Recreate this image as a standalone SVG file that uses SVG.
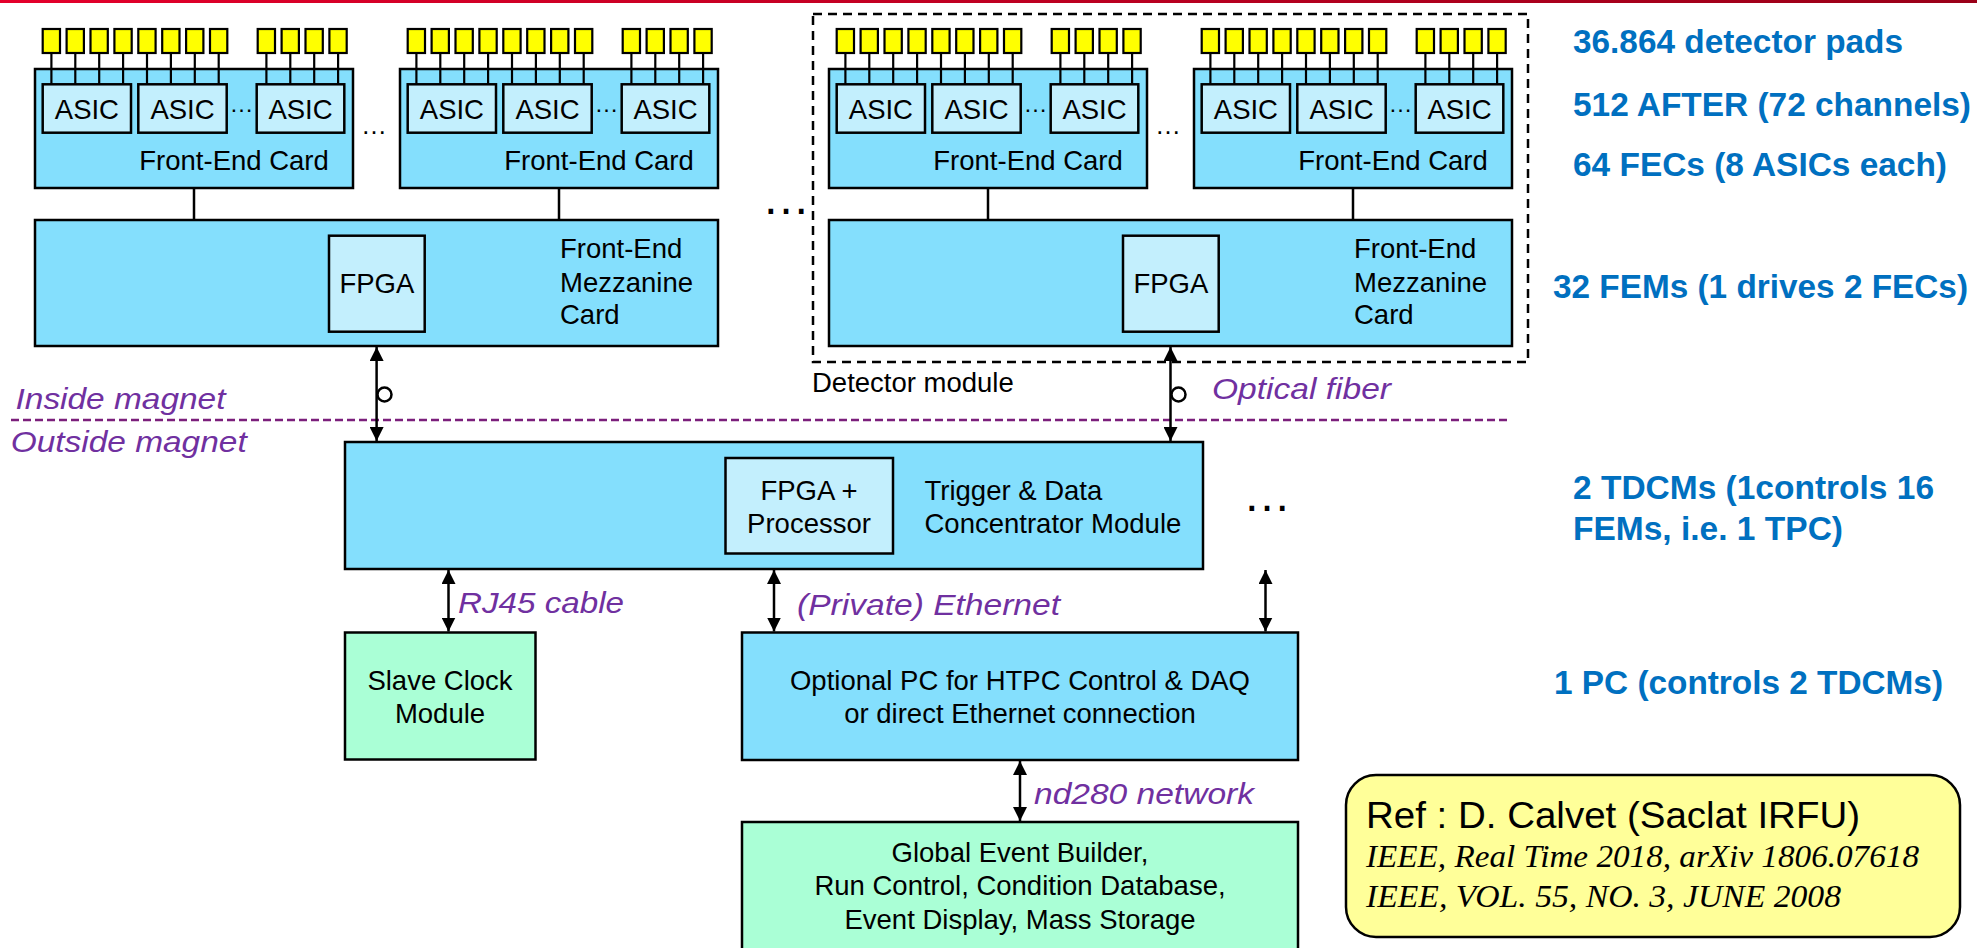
<svg xmlns="http://www.w3.org/2000/svg" width="1977" height="948" viewBox="0 0 1977 948">
<defs>
<style>
.box{fill:#84dffd;stroke:#000;stroke-width:2.5}
.chip{fill:#c3effd;stroke:#000;stroke-width:2.5}
.green{fill:#aaffd6;stroke:#000;stroke-width:2.5}
.pad{fill:#ffff00;stroke:#000;stroke-width:2.2}
.lead{stroke:#000;stroke-width:2.2;fill:none}
.wire{stroke:#000;stroke-width:2.5;fill:none}
.arr{stroke:#000;stroke-width:2.5;fill:none;marker-start:url(#ah);marker-end:url(#ah)}
.t{font-family:"Liberation Sans",Arial,sans-serif;font-size:27.5px;fill:#000}
.c{text-anchor:middle}
.blue{font-family:"Liberation Sans",Arial,sans-serif;font-size:33px;font-weight:bold;fill:#0070c0}
.pur{font-family:"Liberation Sans",Arial,sans-serif;font-size:30px;font-style:italic;fill:#7030a0}
.dots{font-family:"Liberation Sans",Arial,sans-serif;fill:#000;text-anchor:middle}
</style>
<linearGradient id="redbar" x1="0" y1="0" x2="1" y2="0">
<stop offset="0" stop-color="#e4002b"/>
<stop offset="1" stop-color="#9a0018"/>
</linearGradient>
<marker id="ah" viewBox="0 0 14 14" refX="14" refY="7" markerWidth="14" markerHeight="14" markerUnits="userSpaceOnUse" orient="auto-start-reverse">
<path d="M0,0 L14,7 L0,14 z" fill="#000"/>
</marker>
</defs>
<rect x="0" y="0" width="1977" height="948" fill="#fff"/>
<rect x="0" y="0" width="1977" height="3" fill="url(#redbar)"/>

<!-- Detector module dashed frame -->
<g id="detector-module">
<rect x="813" y="14" width="715" height="348" fill="none" stroke="#000" stroke-width="2.5" stroke-dasharray="9 6"/>
<text class="t" x="812" y="392">Detector module</text>
</g>

<!-- magnet boundary -->
<g id="magnet-boundary">
<line x1="11" y1="420" x2="1509" y2="420" stroke="#7b1f7b" stroke-width="2.5" stroke-dasharray="8 4"/>
<text class="pur" x="15.5" y="408.5" textLength="210" lengthAdjust="spacingAndGlyphs">Inside magnet</text>
<text class="pur" x="10.7" y="451.5" textLength="236" lengthAdjust="spacingAndGlyphs">Outside magnet</text>
</g>

<!-- Front-End Cards -->
<g id="fec1" transform="translate(35,69)">
<rect class="box" x="0" y="0" width="318" height="119"/>
<g class="lead">
<line x1="16.4" y1="-16" x2="16.4" y2="15.3"/><line x1="40.3" y1="-16" x2="40.3" y2="15.3"/><line x1="64.2" y1="-16" x2="64.2" y2="15.3"/><line x1="88.1" y1="-16" x2="88.1" y2="15.3"/>
<line x1="112" y1="-16" x2="112" y2="15.3"/><line x1="135.9" y1="-16" x2="135.9" y2="15.3"/><line x1="159.8" y1="-16" x2="159.8" y2="15.3"/><line x1="183.7" y1="-16" x2="183.7" y2="15.3"/>
<line x1="231.4" y1="-16" x2="231.4" y2="15.3"/><line x1="255.3" y1="-16" x2="255.3" y2="15.3"/><line x1="279.2" y1="-16" x2="279.2" y2="15.3"/><line x1="303.1" y1="-16" x2="303.1" y2="15.3"/>
</g>
<g>
<rect class="pad" x="7.7" y="-40" width="17.3" height="24"/><rect class="pad" x="31.6" y="-40" width="17.3" height="24"/><rect class="pad" x="55.5" y="-40" width="17.3" height="24"/><rect class="pad" x="79.4" y="-40" width="17.3" height="24"/>
<rect class="pad" x="103.3" y="-40" width="17.3" height="24"/><rect class="pad" x="127.2" y="-40" width="17.3" height="24"/><rect class="pad" x="151.1" y="-40" width="17.3" height="24"/><rect class="pad" x="175" y="-40" width="17.3" height="24"/>
<rect class="pad" x="222.7" y="-40" width="17.3" height="24"/><rect class="pad" x="246.6" y="-40" width="17.3" height="24"/><rect class="pad" x="270.5" y="-40" width="17.3" height="24"/><rect class="pad" x="294.4" y="-40" width="17.3" height="24"/>
</g>
<rect class="chip" x="7.7" y="15.3" width="88.3" height="48.4"/>
<rect class="chip" x="103.3" y="15.3" width="88.4" height="48.4"/>
<rect class="chip" x="221.7" y="15.3" width="87.6" height="48.4"/>
<text class="t c" x="51.9" y="50">ASIC</text>
<text class="t c" x="147.5" y="50">ASIC</text>
<text class="t c" x="265.5" y="50">ASIC</text>
<text class="dots" x="206.5" y="43" font-size="24">…</text>
<text class="t" x="104.3" y="101">Front-End Card</text>
</g>

<g id="fec2" transform="translate(400,69)">
<rect class="box" x="0" y="0" width="318" height="119"/>
<g class="lead">
<line x1="16.4" y1="-16" x2="16.4" y2="15.3"/><line x1="40.3" y1="-16" x2="40.3" y2="15.3"/><line x1="64.2" y1="-16" x2="64.2" y2="15.3"/><line x1="88.1" y1="-16" x2="88.1" y2="15.3"/>
<line x1="112" y1="-16" x2="112" y2="15.3"/><line x1="135.9" y1="-16" x2="135.9" y2="15.3"/><line x1="159.8" y1="-16" x2="159.8" y2="15.3"/><line x1="183.7" y1="-16" x2="183.7" y2="15.3"/>
<line x1="231.4" y1="-16" x2="231.4" y2="15.3"/><line x1="255.3" y1="-16" x2="255.3" y2="15.3"/><line x1="279.2" y1="-16" x2="279.2" y2="15.3"/><line x1="303.1" y1="-16" x2="303.1" y2="15.3"/>
</g>
<g>
<rect class="pad" x="7.7" y="-40" width="17.3" height="24"/><rect class="pad" x="31.6" y="-40" width="17.3" height="24"/><rect class="pad" x="55.5" y="-40" width="17.3" height="24"/><rect class="pad" x="79.4" y="-40" width="17.3" height="24"/>
<rect class="pad" x="103.3" y="-40" width="17.3" height="24"/><rect class="pad" x="127.2" y="-40" width="17.3" height="24"/><rect class="pad" x="151.1" y="-40" width="17.3" height="24"/><rect class="pad" x="175" y="-40" width="17.3" height="24"/>
<rect class="pad" x="222.7" y="-40" width="17.3" height="24"/><rect class="pad" x="246.6" y="-40" width="17.3" height="24"/><rect class="pad" x="270.5" y="-40" width="17.3" height="24"/><rect class="pad" x="294.4" y="-40" width="17.3" height="24"/>
</g>
<rect class="chip" x="7.7" y="15.3" width="88.3" height="48.4"/>
<rect class="chip" x="103.3" y="15.3" width="88.4" height="48.4"/>
<rect class="chip" x="221.7" y="15.3" width="87.6" height="48.4"/>
<text class="t c" x="51.9" y="50">ASIC</text>
<text class="t c" x="147.5" y="50">ASIC</text>
<text class="t c" x="265.5" y="50">ASIC</text>
<text class="dots" x="206.5" y="43" font-size="24">…</text>
<text class="t" x="104.3" y="101">Front-End Card</text>
</g>

<g id="fec3" transform="translate(829,69)">
<rect class="box" x="0" y="0" width="318" height="119"/>
<g class="lead">
<line x1="16.4" y1="-16" x2="16.4" y2="15.3"/><line x1="40.3" y1="-16" x2="40.3" y2="15.3"/><line x1="64.2" y1="-16" x2="64.2" y2="15.3"/><line x1="88.1" y1="-16" x2="88.1" y2="15.3"/>
<line x1="112" y1="-16" x2="112" y2="15.3"/><line x1="135.9" y1="-16" x2="135.9" y2="15.3"/><line x1="159.8" y1="-16" x2="159.8" y2="15.3"/><line x1="183.7" y1="-16" x2="183.7" y2="15.3"/>
<line x1="231.4" y1="-16" x2="231.4" y2="15.3"/><line x1="255.3" y1="-16" x2="255.3" y2="15.3"/><line x1="279.2" y1="-16" x2="279.2" y2="15.3"/><line x1="303.1" y1="-16" x2="303.1" y2="15.3"/>
</g>
<g>
<rect class="pad" x="7.7" y="-40" width="17.3" height="24"/><rect class="pad" x="31.6" y="-40" width="17.3" height="24"/><rect class="pad" x="55.5" y="-40" width="17.3" height="24"/><rect class="pad" x="79.4" y="-40" width="17.3" height="24"/>
<rect class="pad" x="103.3" y="-40" width="17.3" height="24"/><rect class="pad" x="127.2" y="-40" width="17.3" height="24"/><rect class="pad" x="151.1" y="-40" width="17.3" height="24"/><rect class="pad" x="175" y="-40" width="17.3" height="24"/>
<rect class="pad" x="222.7" y="-40" width="17.3" height="24"/><rect class="pad" x="246.6" y="-40" width="17.3" height="24"/><rect class="pad" x="270.5" y="-40" width="17.3" height="24"/><rect class="pad" x="294.4" y="-40" width="17.3" height="24"/>
</g>
<rect class="chip" x="7.7" y="15.3" width="88.3" height="48.4"/>
<rect class="chip" x="103.3" y="15.3" width="88.4" height="48.4"/>
<rect class="chip" x="221.7" y="15.3" width="87.6" height="48.4"/>
<text class="t c" x="51.9" y="50">ASIC</text>
<text class="t c" x="147.5" y="50">ASIC</text>
<text class="t c" x="265.5" y="50">ASIC</text>
<text class="dots" x="206.5" y="43" font-size="24">…</text>
<text class="t" x="104.3" y="101">Front-End Card</text>
</g>

<g id="fec4" transform="translate(1194,69)">
<rect class="box" x="0" y="0" width="318" height="119"/>
<g class="lead">
<line x1="16.4" y1="-16" x2="16.4" y2="15.3"/><line x1="40.3" y1="-16" x2="40.3" y2="15.3"/><line x1="64.2" y1="-16" x2="64.2" y2="15.3"/><line x1="88.1" y1="-16" x2="88.1" y2="15.3"/>
<line x1="112" y1="-16" x2="112" y2="15.3"/><line x1="135.9" y1="-16" x2="135.9" y2="15.3"/><line x1="159.8" y1="-16" x2="159.8" y2="15.3"/><line x1="183.7" y1="-16" x2="183.7" y2="15.3"/>
<line x1="231.4" y1="-16" x2="231.4" y2="15.3"/><line x1="255.3" y1="-16" x2="255.3" y2="15.3"/><line x1="279.2" y1="-16" x2="279.2" y2="15.3"/><line x1="303.1" y1="-16" x2="303.1" y2="15.3"/>
</g>
<g>
<rect class="pad" x="7.7" y="-40" width="17.3" height="24"/><rect class="pad" x="31.6" y="-40" width="17.3" height="24"/><rect class="pad" x="55.5" y="-40" width="17.3" height="24"/><rect class="pad" x="79.4" y="-40" width="17.3" height="24"/>
<rect class="pad" x="103.3" y="-40" width="17.3" height="24"/><rect class="pad" x="127.2" y="-40" width="17.3" height="24"/><rect class="pad" x="151.1" y="-40" width="17.3" height="24"/><rect class="pad" x="175" y="-40" width="17.3" height="24"/>
<rect class="pad" x="222.7" y="-40" width="17.3" height="24"/><rect class="pad" x="246.6" y="-40" width="17.3" height="24"/><rect class="pad" x="270.5" y="-40" width="17.3" height="24"/><rect class="pad" x="294.4" y="-40" width="17.3" height="24"/>
</g>
<rect class="chip" x="7.7" y="15.3" width="88.3" height="48.4"/>
<rect class="chip" x="103.3" y="15.3" width="88.4" height="48.4"/>
<rect class="chip" x="221.7" y="15.3" width="87.6" height="48.4"/>
<text class="t c" x="51.9" y="50">ASIC</text>
<text class="t c" x="147.5" y="50">ASIC</text>
<text class="t c" x="265.5" y="50">ASIC</text>
<text class="dots" x="206.5" y="43" font-size="24">…</text>
<text class="t" x="104.3" y="101">Front-End Card</text>
</g>

<text class="dots" x="374" y="134" font-size="26">…</text>
<text class="dots" x="1168" y="134" font-size="26">…</text>

<!-- Front-End Mezzanine Cards -->
<g id="fem1" transform="translate(35,220)">
<rect class="box" x="0" y="0" width="683" height="126"/>
<rect class="chip" x="294" y="15.7" width="95.7" height="96"/>
<text class="t c" x="341.9" y="73">FPGA</text>
<text class="t" x="525" y="38">Front-End</text>
<text class="t" x="525" y="71.5">Mezzanine</text>
<text class="t" x="525" y="104">Card</text>
</g>
<g id="fem2" transform="translate(829,220)">
<rect class="box" x="0" y="0" width="683" height="126"/>
<rect class="chip" x="294" y="15.7" width="95.7" height="96"/>
<text class="t c" x="341.9" y="73">FPGA</text>
<text class="t" x="525" y="38">Front-End</text>
<text class="t" x="525" y="71.5">Mezzanine</text>
<text class="t" x="525" y="104">Card</text>
</g>
<text class="dots" x="786" y="214" font-size="48">…</text>

<!-- TDCM -->
<g id="tdcm">
<rect class="box" x="345" y="442" width="858" height="127"/>
<rect class="chip" x="725.5" y="458" width="167.5" height="95.5"/>
<text class="t c" x="809" y="499.5">FPGA +</text>
<text class="t c" x="809" y="532.5">Processor</text>
<text class="t" x="924.5" y="499.5">Trigger &amp; Data</text>
<text class="t" x="924.5" y="532.5">Concentrator Module</text>
</g>
<text class="dots" x="1267" y="511" font-size="48">…</text>

<!-- Slave clock -->
<g id="slave-clock">
<rect class="green" x="345" y="632.5" width="190.5" height="127"/>
<text class="t c" x="440" y="690">Slave Clock</text>
<text class="t c" x="440" y="723">Module</text>
</g>

<!-- PC -->
<g id="pc">
<rect class="box" x="742" y="632.5" width="556" height="127.5"/>
<text class="t c" x="1020" y="690">Optional PC for HTPC Control &amp; DAQ</text>
<text class="t c" x="1020" y="723">or direct Ethernet connection</text>
</g>

<!-- Global event builder -->
<g id="geb">
<rect class="green" x="742" y="822" width="556" height="140"/>
<text class="t c" x="1020" y="862">Global Event Builder,</text>
<text class="t c" x="1020" y="895">Run Control, Condition Database,</text>
<text class="t c" x="1020" y="929">Event Display, Mass Storage</text>
</g>

<!-- Connectors -->
<g id="connectors">
<line class="wire" x1="194" y1="188" x2="194" y2="220"/>
<line class="wire" x1="559" y1="188" x2="559" y2="220"/>
<line class="wire" x1="988" y1="188" x2="988" y2="220"/>
<line class="wire" x1="1353" y1="188" x2="1353" y2="220"/>
<line class="arr" x1="376.6" y1="347" x2="376.6" y2="441"/>
<circle cx="384.5" cy="394.5" r="7" fill="none" stroke="#000" stroke-width="2.5"/>
<line class="arr" x1="1170.5" y1="347" x2="1170.5" y2="441"/>
<circle cx="1178.5" cy="394.5" r="7" fill="none" stroke="#000" stroke-width="2.5"/>
<line class="arr" x1="448.5" y1="570" x2="448.5" y2="631.5"/>
<line class="arr" x1="774" y1="570" x2="774" y2="631.5"/>
<line class="arr" x1="1265.5" y1="570" x2="1265.5" y2="631.5"/>
<line class="arr" x1="1020" y1="761" x2="1020" y2="821"/>
<text class="pur" x="1212" y="399" textLength="179" lengthAdjust="spacingAndGlyphs">Optical fiber</text>
<text class="pur" x="458" y="613" textLength="166" lengthAdjust="spacingAndGlyphs">RJ45 cable</text>
<text class="pur" x="797" y="615" textLength="263" lengthAdjust="spacingAndGlyphs">(Private) Ethernet</text>
<text class="pur" x="1034" y="804" textLength="220" lengthAdjust="spacingAndGlyphs">nd280 network</text>
</g>

<!-- Right-side summary -->
<g id="summary">
<text class="blue" x="1573" y="53" textLength="330" lengthAdjust="spacingAndGlyphs">36.864 detector pads</text>
<text class="blue" x="1573" y="115.5" textLength="398" lengthAdjust="spacingAndGlyphs">512 AFTER (72 channels)</text>
<text class="blue" x="1573" y="176" textLength="374" lengthAdjust="spacingAndGlyphs">64 FECs (8 ASICs each)</text>
<text class="blue" x="1553" y="297.5" textLength="415" lengthAdjust="spacingAndGlyphs">32 FEMs (1 drives 2 FECs)</text>
<text class="blue" x="1573" y="499" textLength="361" lengthAdjust="spacingAndGlyphs">2 TDCMs (1controls 16</text>
<text class="blue" x="1573" y="539.5" textLength="270" lengthAdjust="spacingAndGlyphs">FEMs, i.e. 1 TPC)</text>
<text class="blue" x="1554" y="694" textLength="389" lengthAdjust="spacingAndGlyphs">1 PC (controls 2 TDCMs)</text>
</g>

<!-- Reference box -->
<g id="reference">
<rect x="1346" y="775" width="614" height="162" rx="30" ry="30" fill="#ffff99" stroke="#000" stroke-width="2.5"/>
<text x="1366" y="827.5" font-family="'Liberation Sans',Arial,sans-serif" font-size="37" fill="#000" textLength="494" lengthAdjust="spacingAndGlyphs">Ref : D. Calvet (Saclat IRFU)</text>
<text x="1366" y="866.5" font-family="'Liberation Serif','Times New Roman',serif" font-size="31" font-style="italic" fill="#000" textLength="553" lengthAdjust="spacingAndGlyphs">IEEE, Real Time 2018, arXiv 1806.07618</text>
<text x="1366" y="907" font-family="'Liberation Serif','Times New Roman',serif" font-size="31" font-style="italic" fill="#000" textLength="475" lengthAdjust="spacingAndGlyphs">IEEE, VOL. 55, NO. 3, JUNE 2008</text>
</g>
</svg>
